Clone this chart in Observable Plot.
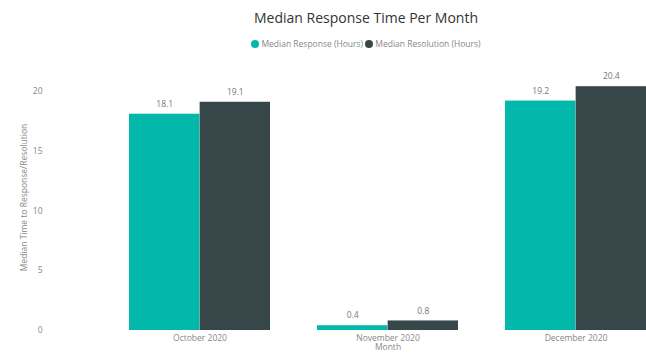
<!DOCTYPE html>
<html>
<head>
<meta charset="utf-8">
<script src="https://cdn.jsdelivr.net/npm/d3@7"></script>
<script src="https://cdn.jsdelivr.net/npm/@observablehq/plot@0.6"></script>
<style>
  html, body { margin: 0; padding: 0; background: #fff; width: 646px; height: 354px; overflow: hidden; font-family: "Open Sans", "DejaVu Sans", sans-serif; }
  #title { height: 30px; line-height: 36px; text-align: center; padding-left: 86px; font-size: 14px; color: #333; }
  #legend { height: 24px; line-height: 28px; text-align: center; padding-left: 86px; font-size: 8.5px; color: #888; }
  .sw { display: inline-block; width: 8px; height: 8px; border-radius: 50%; vertical-align: -1px; margin-right: 2px; }
  #chart svg { display: block; }
</style>
</head>
<body>
<div id="title">Median Response Time Per Month</div>
<div id="legend"><span class="sw" style="background:#01B8AA"></span>Median Response (Hours) <span class="sw" style="background:#374649"></span>Median Resolution (Hours)</div>
<div id="chart"></div>
<script>
const months = ["October 2020", "November 2020", "December 2020"];
const responseHours = [18.1, 0.4, 19.2];
const resolutionHours = [19.1, 0.8, 20.4];
const yTicks = [0, 5, 10, 15, 20];
const xTitle = "Month";
const yTitle = "Median Time to Response/Resolution";

const data = months.flatMap((m, i) => [
  {month: m, series: "Median Response (Hours)", value: responseHours[i]},
  {month: m, series: "Median Resolution (Hours)", value: resolutionHours[i]}
]);

const xLeft = 128, xRight = 646, padInner = 0.25;
const step = (xRight - xLeft) / (months.length - padInner);
const half = step * (1 - padInner) / 2;

const colors = {"Median Response (Hours)": "#01B8AA", "Median Resolution (Hours)": "#374649"};

const chart = Plot.plot({
  width: 646,
  height: 300,
  marginLeft: 48,
  marginRight: 0,
  marginTop: 10,
  marginBottom: 24,
  style: {fontFamily: "'Open Sans', 'DejaVu Sans', sans-serif", fontSize: "8.5px", color: "#888", background: "transparent"},
  x: {domain: months, range: [xLeft, xRight], paddingInner: padInner, paddingOuter: 0, label: null},
  y: {domain: [0, 20], range: [276, 37], label: null},
  marks: [
    Plot.ruleY(yTicks, {stroke: "#eeeeee", strokeDasharray: "1,2", x1: 48, x2: 646}),
    Plot.barY(data.filter(d => d.series === "Median Response (Hours)"), {x: "month", y: "value", fill: colors["Median Response (Hours)"], insetRight: half}),
    Plot.barY(data.filter(d => d.series === "Median Resolution (Hours)"), {x: "month", y: "value", fill: colors["Median Resolution (Hours)"], insetLeft: half}),
    Plot.text(data.filter(d => d.series === "Median Response (Hours)"), {x: "month", y: "value", text: d => d.value.toFixed(1), dx: -half / 2, dy: -10, fill: "#777", fontSize: 8.5}),
    Plot.text(data.filter(d => d.series === "Median Resolution (Hours)"), {x: "month", y: "value", text: d => d.value.toFixed(1), dx: half / 2, dy: -10, fill: "#777", fontSize: 8.5}),
    Plot.axisY({ticks: yTicks, tickSize: 0, tickPadding: 6, fill: "#888", label: yTitle, labelAnchor: "center", labelArrow: "none", labelOffset: 28}),
    Plot.axisX({tickSize: 0, tickPadding: 4, fill: "#888", label: null}),
    Plot.text([months[1]], {x: d => d, text: () => xTitle, frameAnchor: "bottom", lineAnchor: "middle", dy: 17, fill: "#888", fontSize: 8.5})
  ]
});
document.getElementById("chart").appendChild(chart);
</script>
</body>
</html>
